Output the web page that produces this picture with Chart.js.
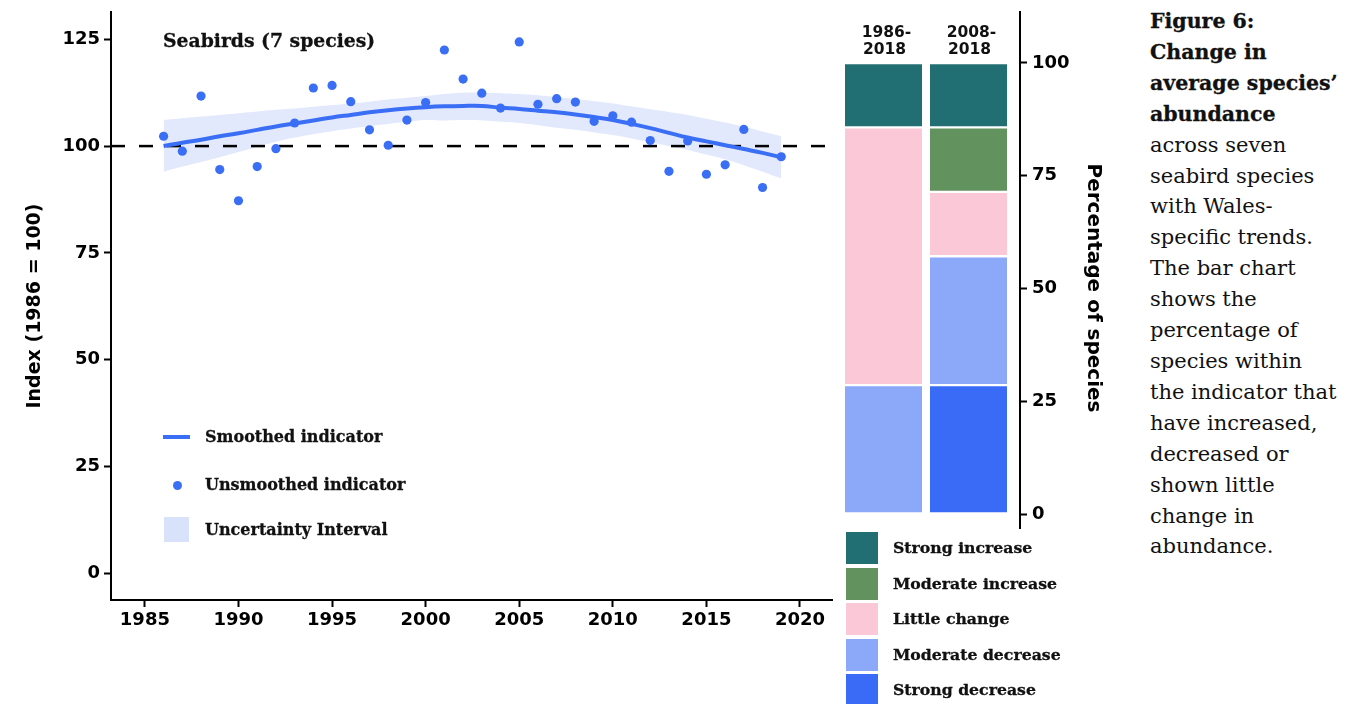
<!DOCTYPE html>
<html>
<head>
<meta charset="utf-8">
<script src="https://cdn.jsdelivr.net/npm/chart.js@4/dist/chart.umd.min.js"></script>
<style>
  html, body { margin: 0; padding: 0; background: #fff; }
  body { width: 1348px; height: 704px; position: relative; overflow: hidden; }
  .abs { position: absolute; }
  .slab { font-family: "DejaVu Serif", serif; font-weight: bold; color: #111; white-space: nowrap; -webkit-text-stroke: 0.3px #111; }
  #lineWrap { left: 0; top: 0; width: 840px; height: 650px; }
  #barWrap { left: 800px; top: 0; width: 320px; height: 540px; }
  .lt { font-size: 16px; line-height: 20px; }
  .bl { font-size: 15.7px; line-height: 20px; }
  #caption { left: 1150px; top: 6px; font-family: "DejaVu Serif", serif; font-size: 21px; line-height: 30.9px; color: #111; white-space: nowrap; }
  #caption b { font-size: 20.5px; -webkit-text-stroke: 0.3px #111; }
</style>
</head>
<body>
<div id="lineWrap" class="abs"><canvas id="lineChart" width="840" height="650"></canvas></div>
<div id="barWrap" class="abs"><canvas id="barChart" width="320" height="540"></canvas></div>

<div class="abs slab" style="left:163px;top:28px;font-size:18.8px;line-height:24px;">Seabirds (7 species)</div>

<div class="abs" style="left:163px;top:435px;width:27px;height:4px;background:#3A6EF5;"></div>
<div class="abs slab lt" style="left:205px;top:427px;">Smoothed indicator</div>
<div class="abs" style="left:172.5px;top:480.5px;width:9px;height:9px;border-radius:50%;background:#3A6EF5;"></div>
<div class="abs slab lt" style="left:205px;top:475px;">Unsmoothed indicator</div>
<div class="abs" style="left:164px;top:517px;width:25px;height:25px;background:#D8E2FA;"></div>
<div class="abs slab lt" style="left:205px;top:520px;">Uncertainty Interval</div>

<div id="barLegend"></div>

<div id="caption" class="abs"><b>Figure 6:</b><br><b>Change in</b><br><b>average species’</b><br><b>abundance</b><br>across seven<br>seabird species<br>with Wales-<br>specific trends.<br>The bar chart<br>shows the<br>percentage of<br>species within<br>the indicator that<br>have increased,<br>decreased or<br>shown little<br>change in<br>abundance.</div>

<script>
// ---------------- DATA ----------------
const years = [1986,1987,1988,1989,1990,1991,1992,1993,1994,1995,1996,1997,1998,1999,2000,2001,2002,2003,2004,2005,2006,2007,2008,2009,2010,2011,2012,2013,2014,2015,2016,2017,2018,2019];
const unsmoothed = [102.3,98.8,111.7,94.5,87.2,95.2,99.4,105.4,113.6,114.2,110.4,103.8,100.2,106.1,110.2,122.5,115.7,112.4,108.9,124.4,109.8,111.1,110.3,105.8,107.1,105.6,101.3,94.1,101.2,93.4,95.6,103.9,90.3,97.5];
const smoothed = [100.0,100.8,101.5,102.3,103.0,103.8,104.6,105.3,106.0,106.7,107.3,107.9,108.4,108.8,109.1,109.3,109.4,109.4,109.0,108.7,108.3,107.9,107.4,106.8,106.1,105.2,104.2,103.1,102.0,101.1,100.2,99.3,98.4,97.4];
const upperCI = [106.1,106.5,106.9,107.3,107.7,108.1,108.5,108.8,109.2,109.6,110.0,110.4,110.9,111.3,111.7,112.2,112.5,112.5,112.4,112.2,111.9,111.5,111.0,110.5,110.0,109.3,108.6,108.0,107.3,106.4,105.5,104.5,103.4,102.3];
const lowerCI = [94.0,95.2,96.3,97.4,98.6,99.8,101.0,102.0,102.8,103.5,104.1,104.7,105.2,105.7,106.1,106.0,106.1,106.0,105.7,105.4,104.9,104.3,103.8,103.2,102.6,101.8,100.9,100.0,99.1,98.0,96.9,95.5,94.0,92.4];
const baseline = 100;
const xTicks = [1985,1990,1995,2000,2005,2010,2015,2020];
const yTicks = [0,25,50,75,100,125];

const barPeriods = [["1986-","2018"],["2008-","2018"]];
const changeCategories = ["Strong decrease","Moderate decrease","Little change","Moderate increase","Strong increase"];
const changeColors = ["#3A6BF7","#8BA8F9","#FBC8D8","#62935E","#226F73"];
// percentage of species (7 species) per period, bottom to top
const pct1986 = [0, 28.571, 57.143, 0, 14.286];
const pct2008 = [28.571, 28.571, 14.286, 14.286, 14.286];
const pctTicks = [0,25,50,75,100];
const pctTitle = "Percentage of species";

// ---------------- STYLE ----------------
const BLUE = "#3A6EF5";
const BAND = "#E3E9FC";
const SANS = "'DejaVu Sans', Verdana, sans-serif";
const sansBold = { family: SANS, weight: "bold" };
const noPad = s => { s.paddingTop = 0; s.paddingBottom = 0; s.paddingLeft = 0; s.paddingRight = 0; };

const pts = arr => years.map((y, i) => ({ x: y, y: arr[i] }));
const X_MIN = 1983.19, X_MAX = 2021.71;

new Chart(document.getElementById("lineChart"), {
  type: "scatter",
  data: {
    datasets: [
      { data: pts(unsmoothed), pointRadius: 4.6, pointHoverRadius: 4.6, pointBackgroundColor: BLUE, pointBorderWidth: 0, showLine: false },
      { data: pts(smoothed), showLine: true, borderColor: BLUE, borderWidth: 4, pointRadius: 0, tension: 0.4, fill: false },
      { data: [{ x: X_MIN, y: baseline }, { x: X_MAX, y: baseline }], showLine: true, borderColor: "#000", borderWidth: 2.5, borderDash: [14, 14], pointRadius: 0, fill: false, clip: false },
      { data: pts(upperCI), showLine: true, borderWidth: 0, borderColor: "rgba(0,0,0,0)", pointRadius: 0, tension: 0.4, fill: false },
      { data: pts(lowerCI), showLine: true, borderWidth: 0, borderColor: "rgba(0,0,0,0)", backgroundColor: BAND, pointRadius: 0, tension: 0.4, fill: "-1" }
    ]
  },
  options: {
    responsive: false, animation: false, events: [],
    layout: { padding: { top: 12, right: 8, left: 0, bottom: 0 } },
    plugins: { legend: { display: false }, tooltip: { enabled: false } },
    scales: {
      x: {
        type: "linear", min: X_MIN, max: X_MAX,
        afterBuildTicks: s => { s.ticks = xTicks.map(v => ({ value: v })); },
        afterFit: s => { s.height = 50; noPad(s); },
        grid: { display: true, drawOnChartArea: false, drawTicks: true, tickLength: 7, tickColor: "#000", tickWidth: 2 },
        border: { display: true, color: "#000", width: 2 },
        ticks: { color: "#000", font: { ...sansBold, size: 18 }, padding: 3, maxRotation: 0, autoSkip: false, callback: v => String(v) }
      },
      y: {
        type: "linear", min: -6.3, max: 131.4,
        afterBuildTicks: s => { s.ticks = yTicks.map(v => ({ value: v })); },
        afterFit: s => { s.width = 111; noPad(s); },
        grid: { display: true, drawOnChartArea: false, drawTicks: true, tickLength: 7, tickColor: "#000", tickWidth: 2 },
        border: { display: true, color: "#000", width: 2 },
        ticks: { color: "#000", font: { ...sansBold, size: 18 }, padding: 4, autoSkip: false, callback: v => String(v) },
        title: { display: true, text: "Index (1986 = 100)", color: "#000", font: { ...sansBold, size: 19 }, padding: { top: 24, bottom: 0 } }
      }
    }
  }
});

const barTextPlugin = {
  id: "barTexts",
  afterDraw(chart) {
    const ctx = chart.ctx, xs = chart.scales.x, ys = chart.scales.y;
    ctx.save();
    ctx.fillStyle = "#111";
    ctx.font = "bold 15.5px " + SANS;
    ctx.textAlign = "center";
    ctx.textBaseline = "middle";
    barPeriods.forEach((lines, i) => {
      const px = xs.getPixelForValue(i);
      lines.forEach((t, j) => ctx.fillText(t, px + (j === 0 ? 3 : 1), 33 + j * 17));
    });
    // rotated axis title, reading top to bottom
    ctx.font = "bold 20px " + SANS;
    ctx.fillStyle = "#000";
    ctx.translate(ys.right - 27, 288);
    ctx.rotate(Math.PI / 2);
    ctx.fillText(pctTitle, 0, 0);
    ctx.restore();
  }
};

const isZero = c => !c.raw || c.raw.y === 0;

new Chart(document.getElementById("barChart"), {
  type: "bar",
  data: {
    datasets: changeCategories.map((name, k) => ({
      label: name,
      data: [{ x: 0, y: pct1986[k] }, { x: 1, y: pct2008[k] }],
      backgroundColor: c => isZero(c) ? "rgba(0,0,0,0)" : changeColors[k],
      borderColor: c => isZero(c) ? "rgba(0,0,0,0)" : "#fff",
      borderWidth: c => isZero(c) ? 0 : { top: 1.5, bottom: 1.5, left: 0, right: 0 },
      borderSkipped: false,
      barThickness: 77
    }))
  },
  options: {
    responsive: false, animation: false, events: [],
    layout: { padding: { top: 12, right: 0, left: 36, bottom: 12 } },
    plugins: { legend: { display: false }, tooltip: { enabled: false } },
    scales: {
      x: { type: "linear", min: -0.559, max: 1.606, offset: false, stacked: true, display: false, grid: { offset: false } },
      y: {
        type: "linear", position: "right", min: -3.1, max: 111.3, stacked: true,
        afterBuildTicks: s => { s.ticks = pctTicks.map(v => ({ value: v })); },
        afterFit: s => { s.width = 100; noPad(s); },
        grid: { display: true, drawOnChartArea: false, drawTicks: true, tickLength: 7, tickColor: "#000", tickWidth: 2 },
        border: { display: true, color: "#000", width: 2 },
        ticks: { color: "#000", font: { ...sansBold, size: 18 }, padding: 5, autoSkip: false, callback: v => String(v) }
      }
    }
  },
  plugins: [barTextPlugin]
});

// bar legend (top to bottom: strong increase ... strong decrease)
const legendHost = document.getElementById("barLegend");
const legendTops = [532, 567.5, 603, 638.5, 674];
changeCategories.slice().reverse().forEach((name, i) => {
  const col = changeColors[changeCategories.length - 1 - i];
  const box = document.createElement("div");
  box.className = "abs";
  box.style.cssText = `left:846px;top:${legendTops[i]}px;width:32px;height:32px;background:${col};`;
  legendHost.appendChild(box);
  const t = document.createElement("div");
  t.className = "abs slab bl";
  t.style.cssText = `left:893px;top:${legendTops[i] + 6}px;`;
  t.textContent = name;
  legendHost.appendChild(t);
});
</script>
</body>
</html>
